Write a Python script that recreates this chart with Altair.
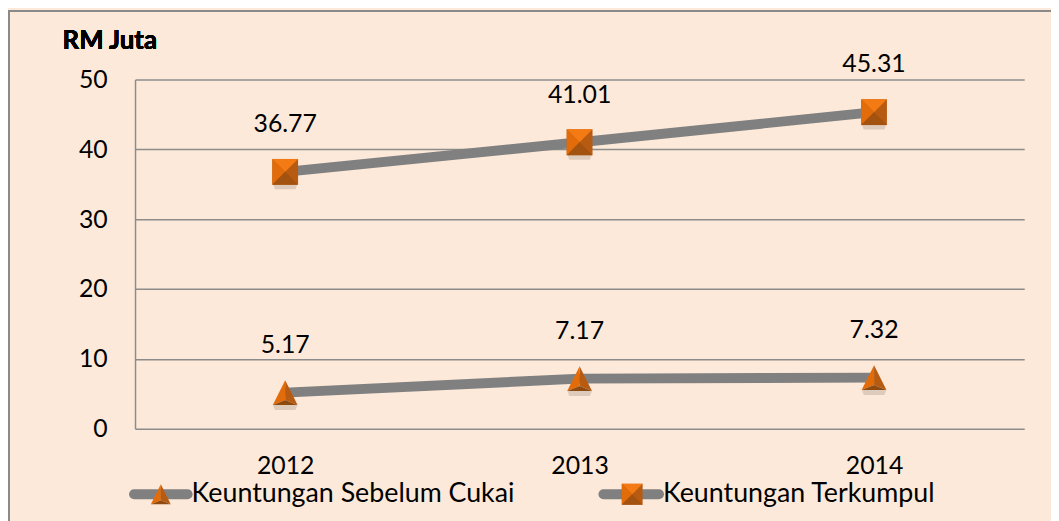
import altair as alt
import pandas as pd

years = ["2012", "2013", "2014"]
series_names = ["Keuntungan Sebelum Cukai", "Keuntungan Terkumpul"]
sebelum_cukai = [5.17, 7.17, 7.32]
terkumpul = [36.77, 41.01, 45.31]

rows = []
for y, v in zip(years, sebelum_cukai):
    rows.append({"year": y, "series": series_names[0], "value": v})
for y, v in zip(years, terkumpul):
    rows.append({"year": y, "series": series_names[1], "value": v})
df = pd.DataFrame(rows)

FONT = "Lato"
BG = "#FDE9D9"
GRAY_LINE = "#808080"
GRID = "#8c8c8c"

W, H = 896, 352
PAD = {"left": 128, "top": 70, "right": 27, "bottom": 91}

x_enc = alt.X("year:O", sort=years,
              scale=alt.Scale(type="point", padding=0.51),
              axis=alt.Axis(title=None, labelAngle=0, labelFont=FONT, labelFontSize=25,
                            labelColor="#000000", ticks=False, domain=False,
                            labelPadding=25, grid=False))
y_enc = alt.Y("value:Q", scale=alt.Scale(domain=[0, 50]),
              axis=alt.Axis(title=None, values=[0, 10, 20, 30, 40, 50], labelFont=FONT,
                            labelFontSize=25, labelColor="#000000", tickSize=0,
                            labelPadding=28, domain=True, domainColor=GRID, domainWidth=1.5,
                            grid=True, gridColor=GRID, gridWidth=1.5))

base = alt.Chart(df).encode(x=x_enc, y=y_enc)

lines = base.mark_line(color=GRAY_LINE, strokeWidth=10).encode(detail="series:N")

SHADOW = "M-0.95,0.95L0.95,0.95L0.8,1.35L-0.8,1.35Z"
shadow = base.mark_point(shape=SHADOW, filled=True, fill="#9a8878", stroke=None,
                         opacity=0.3, size=676)

# square (pyramid look) faces
SQ = 676
sq_faces = [
    ("M-1,-1L1,-1L1,1L-1,1Z", "#B85B12"),
    ("M-1,-1L1,-1L0,0Z", "#F47B14"),
    ("M-1,-1L0,0L-1,1Z", "#E36C0A"),
    ("M-1,1L0,0L1,1Z", "#A3520F"),
]
sq_layers = [
    base.transform_filter(alt.datum.series == series_names[1])
    .mark_point(shape=p, filled=True, fill=c, stroke=None, opacity=1, size=SQ)
    for p, c in sq_faces
]

TR = 625
tr_faces = [
    ("M0,-1L-1,1L0,0.6Z", "#E36C0A"),
    ("M0,-1L1,1L0,0.6Z", "#B85B12"),
    ("M-1,1L1,1L0,0.6Z", "#8F4A10"),
]
tr_layers = [
    base.transform_filter(alt.datum.series == series_names[0])
    .mark_point(shape=p, filled=True, fill=c, stroke=None, opacity=1, size=TR)
    for p, c in tr_faces
]

labels = base.mark_text(font=FONT, fontSize=25, color="#000000", dy=-48,
                        baseline="middle", align="center").encode(
    text=alt.Text("value:Q", format=".2f"))

# frame
frame = alt.Chart(df).mark_rect(fill=None, stroke="#8a8a8a", strokeWidth=2).encode(
    x=alt.value(-127), y=alt.value(-69), x2=alt.value(W + 60), y2=alt.value(H + 150))

unit_title = alt.Chart(df).mark_text(
    font=FONT, fontSize=26, fontWeight="bold", color="#000000",
    align="left", baseline="alphabetic").encode(
    x=alt.value(-73), y=alt.value(-31), text=alt.value("RM Juta"))

# legend
LY = 418
leg_df = pd.DataFrame({"series": series_names})
def leg_item(name, x0, x1, xm, xt, faces, size):
    d = alt.Chart(leg_df).transform_filter(alt.datum.series == name)
    line = d.mark_rule(color=GRAY_LINE, strokeWidth=10, strokeCap="round").encode(
        x=alt.value(x0), x2=alt.value(x1), y=alt.value(LY))
    marks = [d.mark_point(shape=p, filled=True, fill=c, stroke=None, opacity=1, size=size)
             .encode(x=alt.value(xm), y=alt.value(LY)) for p, c in faces]
    txt = d.mark_text(font=FONT, fontSize=27, color="#000000", align="left",
                      baseline="middle").encode(
        x=alt.value(xt), y=alt.value(LY), text="series:N")
    return [line] + marks + [txt]

legend_layers = (leg_item(series_names[0], -1, 53, 26, 57, tr_faces, 400)
                 + leg_item(series_names[1], 472, 528, 501, 532, sq_faces, 441))

chart = alt.layer(
    frame, lines, shadow, *sq_layers, *tr_layers, labels, unit_title, *legend_layers
).properties(
    width=W, height=H, padding=PAD,
    autosize=alt.AutoSizeParams(type="none"),
    background=BG,
).configure_view(stroke=None)

chart.save("out.html", embed_options={"renderer": "svg", "actions": False})
